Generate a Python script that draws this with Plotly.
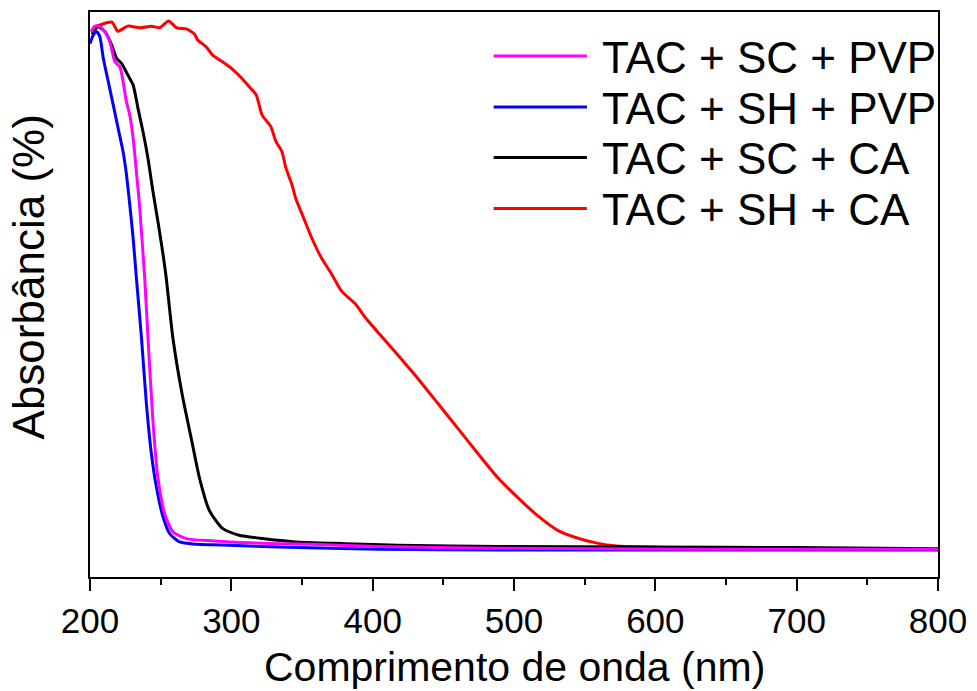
import plotly.graph_objects as go

# ---------------- data (wavelength in nm, absorbance in arbitrary normalized units) -------------
names = ["TAC + SC + PVP", "TAC + SH + PVP", "TAC + SC + CA", "TAC + SH + CA"]
colors = ["#FF00FF", "#0000FF", "#000000", "#FF0000"]

x_sc_pvp = [200.7, 203.5, 207.0, 210.6, 214.1, 217.6, 221.1, 223.4, 225.8, 228.1, 230.5, 232.8,
            235.2, 237.5, 238.7, 241.0, 244.5, 248.0, 252.8, 258.6, 268.0, 286.7, 298.5, 333.6,
            356.9, 404.0, 488.4, 629.1, 800.0]
y_sc_pvp = [0.965, 0.975, 0.974, 0.965, 0.947, 0.912, 0.903, 0.877, 0.841, 0.818, 0.777, 0.718,
            0.653, 0.572, 0.530, 0.424, 0.277, 0.177, 0.112, 0.080, 0.068, 0.064, 0.062, 0.059,
            0.058, 0.054, 0.051, 0.049, 0.049]

x_sh_pvp = [200.0, 202.3, 204.7, 207.0, 209.4, 212.9, 216.4, 219.9, 223.4, 225.8, 228.1, 230.5,
            232.8, 236.4, 239.9, 243.4, 246.9, 251.6, 256.3, 263.3, 275.1, 286.6, 298.5, 333.6,
            404.0, 488.4, 699.4, 800.0]
y_sh_pvp = [0.944, 0.959, 0.965, 0.956, 0.918, 0.877, 0.836, 0.794, 0.753, 0.712, 0.660, 0.600,
            0.530, 0.424, 0.307, 0.219, 0.160, 0.107, 0.077, 0.062, 0.058, 0.057, 0.056, 0.053,
            0.049, 0.048, 0.048, 0.048]

x_sc_ca = [201.4, 205.6, 210.6, 215.3, 218.8, 222.3, 226.9, 230.5, 234.0, 237.5, 241.0, 244.5,
           248.0, 251.6, 253.9, 258.6, 265.6, 271.5, 277.4, 284.4, 293.8, 305.5, 321.9, 345.4,
           380.6, 418.1, 488.4, 593.9, 699.4, 800.0]
y_sc_ca = [0.960, 0.974, 0.965, 0.942, 0.918, 0.909, 0.888, 0.871, 0.829, 0.788, 0.741, 0.683,
           0.630, 0.572, 0.530, 0.424, 0.318, 0.247, 0.176, 0.118, 0.086, 0.074, 0.068, 0.062,
           0.059, 0.056, 0.054, 0.053, 0.052, 0.050]

x_sh_ca = [201.5, 203.5, 207.0, 215.5, 219.7, 226.7, 235.2, 243.6, 249.2, 255.6, 261.2, 268.2,
           273.9, 276.0, 282.3, 286.6, 293.6, 300.7, 307.7, 312.5, 317.5, 321.7, 328.0, 331.5,
           335.8, 338.6, 342.8, 345.6, 351.2, 356.9, 363.9, 371.0, 378.0, 387.8, 395.5, 418.1,
           432.1, 446.2, 460.3, 474.3, 488.4, 502.5, 516.5, 530.6, 544.7, 558.7, 572.8, 593.9,
           629.1, 699.4, 800.0]
y_sh_ca = [0.968, 0.974, 0.977, 0.982, 0.966, 0.975, 0.972, 0.975, 0.972, 0.984, 0.972, 0.970,
           0.961, 0.951, 0.938, 0.924, 0.912, 0.899, 0.882, 0.868, 0.854, 0.818, 0.797, 0.771,
           0.753, 0.724, 0.695, 0.670, 0.635, 0.600, 0.564, 0.536, 0.506, 0.483, 0.457, 0.392,
           0.351, 0.307, 0.263, 0.219, 0.176, 0.141, 0.109, 0.083, 0.069, 0.060, 0.055, 0.053,
           0.051, 0.049, 0.049]

x_ticks = [200, 300, 400, 500, 600, 700, 800]
x_title = "Comprimento de onda (nm)"
y_title = "Absorbância (%)"

series = [
    (x_sc_pvp, y_sc_pvp),
    (x_sh_pvp, y_sh_pvp),
    (x_sc_ca, y_sc_ca),
    (x_sh_ca, y_sh_ca),
]

FONT = "Arial, 'Liberation Sans', sans-serif"

fig = go.Figure()
# draw order: red, black, blue, magenta (magenta on top)
for i in [3, 2, 1, 0]:
    xs, ys = series[i]
    fig.add_trace(go.Scatter(x=xs, y=ys, mode="lines", name=names[i],
                             line=dict(color=colors[i], width=3, shape="spline", smoothing=0.6),
                             showlegend=False))

# custom legend (long line samples, as in the reference)
leg_y = [0.922, 0.832, 0.7425, 0.652]
for i in range(4):
    fig.add_shape(type="line", xref="paper", yref="paper",
                  x0=0.476, x1=0.586, y0=leg_y[i], y1=leg_y[i],
                  line=dict(color=colors[i], width=3))
    fig.add_annotation(xref="paper", yref="paper", x=0.601, y=leg_y[i] - 0.002,
                       xanchor="left", yanchor="middle", showarrow=False,
                       text=names[i], font=dict(family=FONT, size=44, color="black"))

fig.add_annotation(xref="paper", yref="paper", x=0.5, y=-0.159,
                   xanchor="center", yanchor="middle", showarrow=False,
                   text=x_title, font=dict(family=FONT, size=41, color="black"))
fig.add_annotation(xref="paper", yref="paper", x=-0.0721, y=0.5317,
                   xanchor="center", yanchor="middle", showarrow=False, textangle=-90,
                   text=y_title, font=dict(family=FONT, size=44, color="black"))

fig.update_layout(
    width=977, height=691,
    margin=dict(l=90, r=34, t=10, b=114),
    paper_bgcolor="white", plot_bgcolor="white",
    font=dict(family=FONT, color="black"),
    showlegend=False,
)
fig.update_xaxes(
    range=[200, 800], tickvals=x_ticks, ticktext=[str(t) for t in x_ticks],
    ticks="outside", ticklen=12, tickwidth=2, tickcolor="black",
    minor=dict(ticks="outside", ticklen=6, tickwidth=2, tickcolor="black", dtick=50, showgrid=False),
    tickfont=dict(family=FONT, size=35, color="black"),
    showline=True, linewidth=2, linecolor="black", mirror=True,
    showgrid=False, zeroline=False,
)
fig.update_yaxes(
    range=[0, 1], showticklabels=False, ticks="",
    showline=True, linewidth=2, linecolor="black", mirror=True,
    showgrid=False, zeroline=False,
)

fig.write_html("out.html")
